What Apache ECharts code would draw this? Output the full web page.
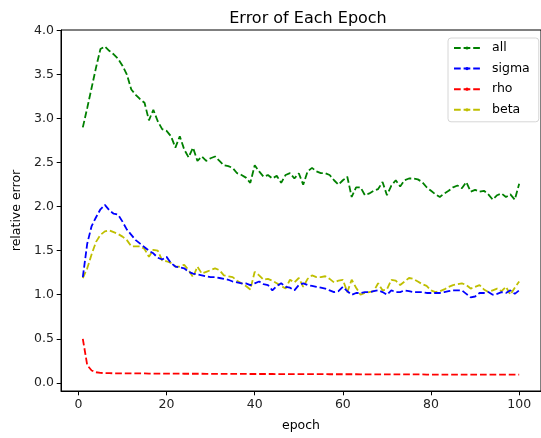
<!DOCTYPE html>
<html>
<head>
<meta charset="utf-8">
<script src="https://cdn.jsdelivr.net/npm/echarts@6/dist/echarts.min.js"></script>
<style>html,body{margin:0;padding:0;background:#fff}#c{width:541px;height:438px}</style>
</head>
<body>
<div id="c"></div>
<script>
const epochs = Array.from({length: 100}, (_, i) => i + 1);
const xTicks = [0, 20, 40, 60, 80, 100];
const yTicks = [0, 0.5, 1.0, 1.5, 2.0, 2.5, 3.0, 3.5, 4.0];
const seriesNames = ['all', 'sigma', 'rho', 'beta'];

const allErr = [
  2.90,3.12,3.35,3.58,3.79,3.82,3.77,3.73,3.68,3.60,
  3.50,3.33,3.27,3.22,3.18,2.98,3.10,2.97,2.88,2.86,
  2.80,2.67,2.80,2.65,2.56,2.67,2.52,2.57,2.52,2.55,
  2.57,2.52,2.47,2.46,2.44,2.38,2.36,2.33,2.27,2.47,
  2.40,2.34,2.36,2.32,2.35,2.27,2.36,2.38,2.32,2.38,
  2.25,2.40,2.44,2.40,2.38,2.38,2.36,2.30,2.25,2.30,
  2.34,2.11,2.22,2.22,2.13,2.15,2.18,2.20,2.28,2.13,
  2.24,2.30,2.23,2.30,2.32,2.32,2.31,2.28,2.22,2.18,
  2.14,2.11,2.15,2.18,2.22,2.24,2.21,2.28,2.17,2.19,
  2.17,2.18,2.14,2.08,2.13,2.15,2.11,2.14,2.08,2.26
];
const sigmaErr = [
  1.20,1.58,1.78,1.88,1.97,2.02,1.96,1.92,1.91,1.83,
  1.74,1.68,1.62,1.58,1.54,1.50,1.47,1.42,1.40,1.43,
  1.36,1.32,1.31,1.30,1.26,1.24,1.23,1.22,1.21,1.20,
  1.20,1.19,1.18,1.17,1.15,1.14,1.13,1.13,1.11,1.13,
  1.15,1.12,1.11,1.05,1.10,1.13,1.09,1.08,1.05,1.11,
  1.13,1.11,1.10,1.09,1.08,1.07,1.05,1.03,1.04,1.09,
  1.04,1.00,1.02,1.02,1.03,1.03,1.04,1.05,1.03,1.00,
  1.05,1.03,1.03,1.05,1.04,1.03,1.03,1.03,1.02,1.02,
  1.02,1.02,1.03,1.04,1.05,1.05,1.05,1.01,0.97,0.98,
  1.02,1.02,1.03,1.00,1.01,1.03,1.02,1.05,1.01,1.05
];
const rhoErr = [
  0.50,0.20,0.14,0.12,0.113,0.110,0.109,0.108,0.108,0.107,
  0.107,0.107,0.106,0.106,0.106,0.105,0.105,0.105,0.105,0.104,
  0.104,0.104,0.104,0.103,0.103,0.103,0.103,0.103,0.102,0.102,
  0.102,0.102,0.102,0.101,0.101,0.101,0.101,0.101,0.100,0.100,
  0.100,0.100,0.100,0.100,0.099,0.099,0.099,0.099,0.099,0.099,
  0.098,0.098,0.098,0.098,0.098,0.098,0.097,0.097,0.097,0.097,
  0.097,0.097,0.097,0.096,0.096,0.096,0.096,0.096,0.096,0.096,
  0.095,0.095,0.095,0.095,0.095,0.095,0.095,0.095,0.094,0.094,
  0.094,0.094,0.094,0.094,0.094,0.094,0.094,0.093,0.093,0.093,
  0.093,0.093,0.093,0.093,0.093,0.093,0.093,0.093,0.093,0.093
];
const betaErr = [
  1.19,1.30,1.46,1.60,1.68,1.72,1.73,1.71,1.69,1.66,
  1.62,1.55,1.55,1.55,1.52,1.43,1.51,1.50,1.39,1.38,
  1.36,1.32,1.32,1.34,1.28,1.20,1.32,1.24,1.26,1.28,
  1.30,1.28,1.22,1.21,1.20,1.16,1.13,1.10,1.06,1.26,
  1.22,1.17,1.18,1.16,1.13,1.10,1.07,1.17,1.14,1.19,
  1.09,1.18,1.22,1.20,1.20,1.21,1.18,1.14,1.16,1.17,
  1.03,1.17,1.08,1.00,1.02,1.03,1.04,1.13,1.05,1.06,
  1.17,1.16,1.11,1.15,1.19,1.18,1.15,1.12,1.10,1.05,
  1.03,1.04,1.06,1.09,1.11,1.12,1.13,1.11,1.07,1.09,
  1.11,1.06,1.03,1.05,1.07,1.04,1.09,1.00,1.08,1.15
];

const colors = ['#008000', '#0000ff', '#ff0000', '#bfbf00'];
const values = [allErr, sigmaErr, rhoErr, betaErr];
const FONT = 'DejaVu Sans';

const chart = echarts.init(document.getElementById('c'), null, {renderer: 'canvas'});
chart.setOption({
  animation: false,
  backgroundColor: '#fff',
  title: {
    text: 'Error of Each Epoch',
    left: 303, top: 6, textAlign: 'center',
    textStyle: {fontFamily: FONT, fontSize: 16, fontWeight: 'normal', color: '#000'}
  },
  legend: {
    data: seriesNames,
    orient: 'vertical',
    left: 448, top: 38,
    padding: [3, 9, 5, 5],
    itemWidth: 26, itemHeight: 4,
    itemGap: 6.6,
    backgroundColor: 'rgba(255,255,255,0.8)',
    borderColor: '#d6d6d6', borderWidth: 1, borderRadius: 3,
    textStyle: {fontFamily: FONT, fontSize: 12.5, color: '#000', lineHeight: 14, padding: [0, 0, 0, 7]}
  },
  grid: {
    left: 61, right: -2.4, top: 30, bottom: 47,
    show: true, borderColor: '#000', borderWidth: 1, backgroundColor: 'transparent'
  },
  xAxis: {
    type: 'value', min: -3.95, max: 104.95,
    name: 'epoch', nameLocation: 'middle', nameGap: 28,
    nameTextStyle: {fontFamily: FONT, fontSize: 12.5, color: '#000'},
    axisLine: {show: true, onZero: false, lineStyle: {color: '#000', width: 1}},
    axisTick: {show: true, length: 4.3, lineStyle: {color: '#000'}, customValues: xTicks},
    axisLabel: {fontFamily: FONT, fontSize: 12.5, color: '#222', margin: 7, customValues: xTicks,
      formatter: v => String(v)},
    splitLine: {show: false}
  },
  yAxis: {
    type: 'value', min: -0.093, max: 4.006,
    name: 'relative error', nameLocation: 'middle', nameGap: 38,
    nameTextStyle: {fontFamily: FONT, fontSize: 12.5, color: '#000'},
    axisLine: {show: true, onZero: false, lineStyle: {color: '#000', width: 1}},
    axisTick: {show: true, length: 4.3, lineStyle: {color: '#000'}, customValues: yTicks},
    axisLabel: {fontFamily: FONT, fontSize: 12.5, color: '#222', margin: 7, customValues: yTicks,
      formatter: v => v.toFixed(1)},
    splitLine: {show: false}
  },
  series: seriesNames.map((n, i) => ({
    name: n, type: 'line',
    data: epochs.map((e, j) => [e, values[i][j]]),
    symbol: 'none', showSymbol: false,
    color: colors[i],
    lineStyle: {color: colors[i], width: 1.8, type: [6.7, 2.9]},
    z: 10 - i
  }))
});
</script>
</body>
</html>
